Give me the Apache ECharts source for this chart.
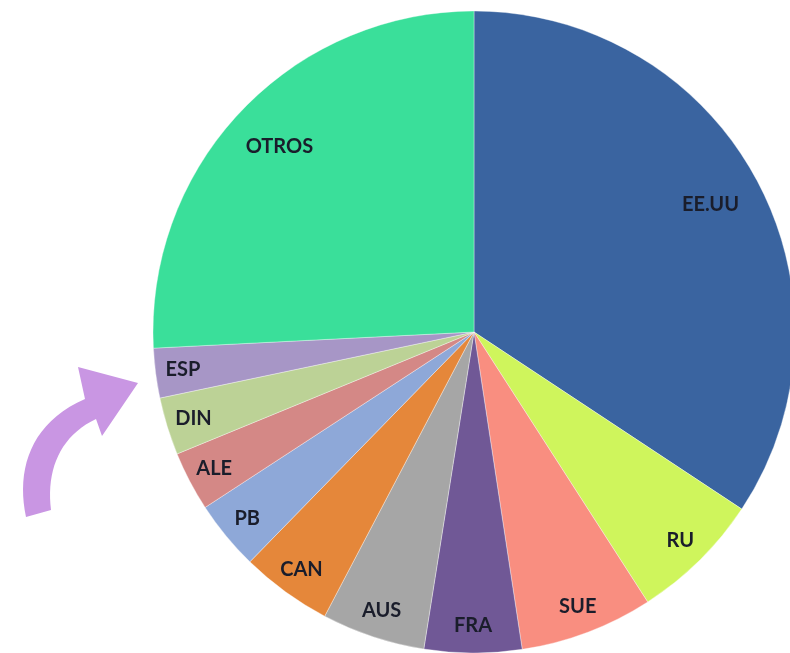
<!DOCTYPE html>
<html>
<head>
<meta charset="utf-8">
<script src="https://cdn.jsdelivr.net/npm/echarts@6/dist/echarts.min.js"></script>
<style>
  html, body { margin: 0; padding: 0; background: #fff; }
  #chart { width: 790px; height: 653px; }
</style>
</head>
<body>
<div id="chart"></div>
<script>
// paises, en orden horario desde las 12
var paises = ['EE.UU', 'RU', 'SUE', 'FRA', 'AUS', 'CAN', 'PB', 'ALE', 'DIN', 'ESP', 'OTROS']
// porcentaje
var valores = [34.3, 6.6, 6.7, 4.9, 5.2, 4.6, 3.5, 3.0, 2.9, 2.5, 25.8]
var colores = ['#3A64A0', '#CFF55C', '#F98E80', '#705896', '#A6A6A6', '#E5873A',
  '#8EA8D8', '#D48886', '#BCD296', '#A796C6', '#3ADF9A']

var centro = [474, 332]
var radio = 321

var myChart = echarts.init(document.getElementById('chart'))

var data = paises.map(function (p, i) {
  return { name: p, value: valores[i], itemStyle: { color: colores[i] } }
})

// capas transparentes solo para las etiquetas:
// las porciones grandes llevan la etiqueta mas adentro
function capaEtiquetas (grandes) {
  return paises.map(function (p, i) {
    var esGrande = valores[i] >= 20
    return { name: p, value: valores[i], label: { show: esGrande === grandes } }
  })
}

var estiloEtiqueta = {
  position: 'inside',
  formatter: '{b}',
  fontFamily: 'Lato',
  fontWeight: 'bold',
  fontSize: 20,
  color: '#1a1d2b'
}

// flecha curva decorativa (muestreo de dos curvas bezier)
function bezier (p0, p1, p2, p3, n) {
  var pts = []
  for (var i = 0; i <= n; i++) {
    var t = i / n
    var a = (1 - t) * (1 - t) * (1 - t)
    var b = 3 * (1 - t) * (1 - t) * t
    var c = 3 * (1 - t) * t * t
    var d = t * t * t
    pts.push([
      a * p0[0] + b * p1[0] + c * p2[0] + d * p3[0],
      a * p0[1] + b * p1[1] + c * p2[1] + d * p3[1]
    ])
  }
  return pts
}
var flecha = bezier([26, 517], [16, 470], [30, 423], [85, 399], 20)
  .concat([[78, 367], [138, 383], [102, 436]])
  .concat(bezier([96, 419], [60, 436], [46, 470], [51, 510], 20))

var option = {
  backgroundColor: '#fff',
  animation: false,
  series: [
    {
      type: 'pie',
      center: centro,
      radius: [0, radio],
      startAngle: 90,
      clockwise: true,
      silent: true,
      label: { show: false },
      labelLine: { show: false },
      itemStyle: {
        borderColor: 'rgba(255,255,255,0.35)',
        borderWidth: 1
      },
      data: data
    },
    {
      type: 'pie',
      center: centro,
      radius: [260, radio],
      startAngle: 90,
      clockwise: true,
      silent: true,
      itemStyle: { color: 'rgba(0,0,0,0)' },
      label: estiloEtiqueta,
      labelLine: { show: false },
      data: capaEtiquetas(false)
    },
    {
      type: 'pie',
      center: centro,
      radius: [210, radio],
      startAngle: 90,
      clockwise: true,
      silent: true,
      itemStyle: { color: 'rgba(0,0,0,0)' },
      label: estiloEtiqueta,
      labelLine: { show: false },
      data: capaEtiquetas(true)
    }
  ],
  graphic: [
    {
      type: 'polygon',
      shape: { points: flecha },
      style: { fill: '#C996E3' }
    }
  ]
}

myChart.setOption(option)
</script>
</body>
</html>
